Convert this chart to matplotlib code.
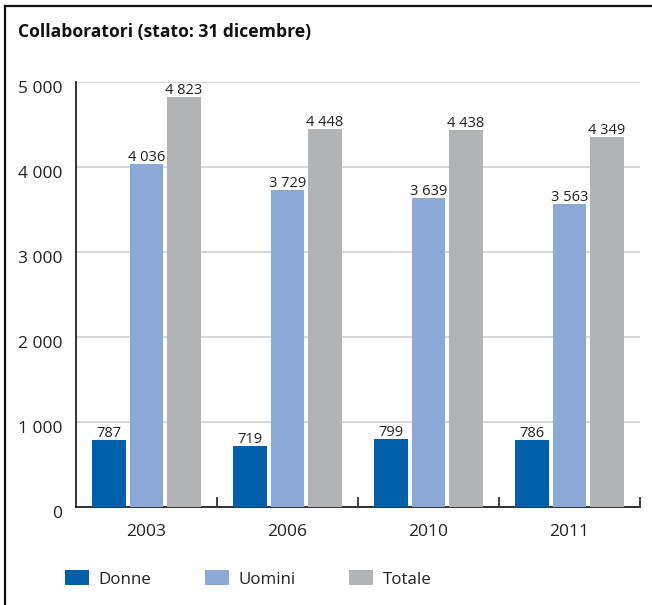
import matplotlib.pyplot as plt
import matplotlib.transforms as mtransforms
from matplotlib.lines import Line2D
from matplotlib.patches import Patch
import numpy as np

# data
years = ['2003', '2006', '2010', '2011']
donne = [787, 719, 799, 786]
uomini = [4036, 3729, 3639, 3563]
totale = [4823, 4448, 4438, 4349]
series_names = ['Donne', 'Uomini', 'Totale']
colors = ['#005EAA', '#8BA8D6', '#B2B3B5']
yticks = [0, 1000, 2000, 3000, 4000, 5000]

plt.rcParams['font.family'] = ['Open Sans', 'DejaVu Sans']

fig = plt.figure(figsize=(6.52, 6.05), dpi=100)
ax = fig.add_axes([76 / 652, 1 - 507 / 605, (640 - 76) / 652, (507 - 82) / 605])

x = np.arange(len(years))
width = 0.24
step = 0.266
for i, (vals, col) in enumerate(zip([donne, uomini, totale], colors)):
    pos = x + (i - 1) * step
    ax.bar(pos, vals, width=width, color=col, zorder=3)
    for px, v in zip(pos, vals):
        lab = f'{v:,}'.replace(',', ' ')
        ax.text(px, v - 10, lab, ha='center', va='bottom', fontsize=10.5,
                color='#222222', zorder=4, clip_on=False)

ax.set_xlim(-0.5, len(years) - 0.5)
ax.set_ylim(0, 5000)
ax.set_yticks(yticks)
ax.set_yticklabels([f'{t:,}'.replace(',', ' ') for t in yticks], fontsize=12.5)
ax.tick_params(axis='y', length=0, pad=10, labelcolor='#222222')
# y labels sit a little below their gridlines in the original
shift = mtransforms.ScaledTranslation(0, -5 / 100, fig.dpi_scale_trans)
for lab in ax.get_yticklabels():
    lab.set_transform(lab.get_transform() + shift)

ax.set_xticks(x)
ax.set_xticklabels(years, fontsize=12.5, color='#222222')
ax.tick_params(axis='x', which='major', length=0, pad=12)
ax.set_xticks(np.arange(0.5, len(years), 1), minor=True)
ax.tick_params(axis='x', which='minor', direction='in', length=7, width=1.2, color='#222222')

ax.yaxis.grid(True, color='#CFCFCF', linewidth=1.2, zorder=0)
ax.set_axisbelow(True)
for s in ['top', 'right']:
    ax.spines[s].set_visible(False)
for s in ['left', 'bottom']:
    ax.spines[s].set_linewidth(1.3)
    ax.spines[s].set_color('#222222')

# title
fig.text(18 / 652, 1 - 32 / 605, 'Collaboratori (stato: 31 dicembre)', fontsize=12.6,
         fontweight='bold', ha='left', va='center', color='#111111')

# frame around figure (top and left)
fig.add_artist(Line2D([5 / 652, 1], [1 - 6 / 605, 1 - 6 / 605], color='#111111', linewidth=1.6))
fig.add_artist(Line2D([5 / 652, 5 / 652], [0, 1 - 6 / 605], color='#111111', linewidth=1.6))

# legend
handles = [Patch(facecolor=c, edgecolor='none') for c in colors]
fig.legend(handles, series_names, loc='center left', ncol=3,
           bbox_to_anchor=(65 / 652, 1 - 579 / 605), frameon=False, fontsize=12.2,
           borderpad=0, borderaxespad=0, handlelength=1.4, handleheight=1.0,
           handletextpad=0.55, columnspacing=3.2, labelcolor='#222222')

fig.savefig('out.png', dpi=100)
